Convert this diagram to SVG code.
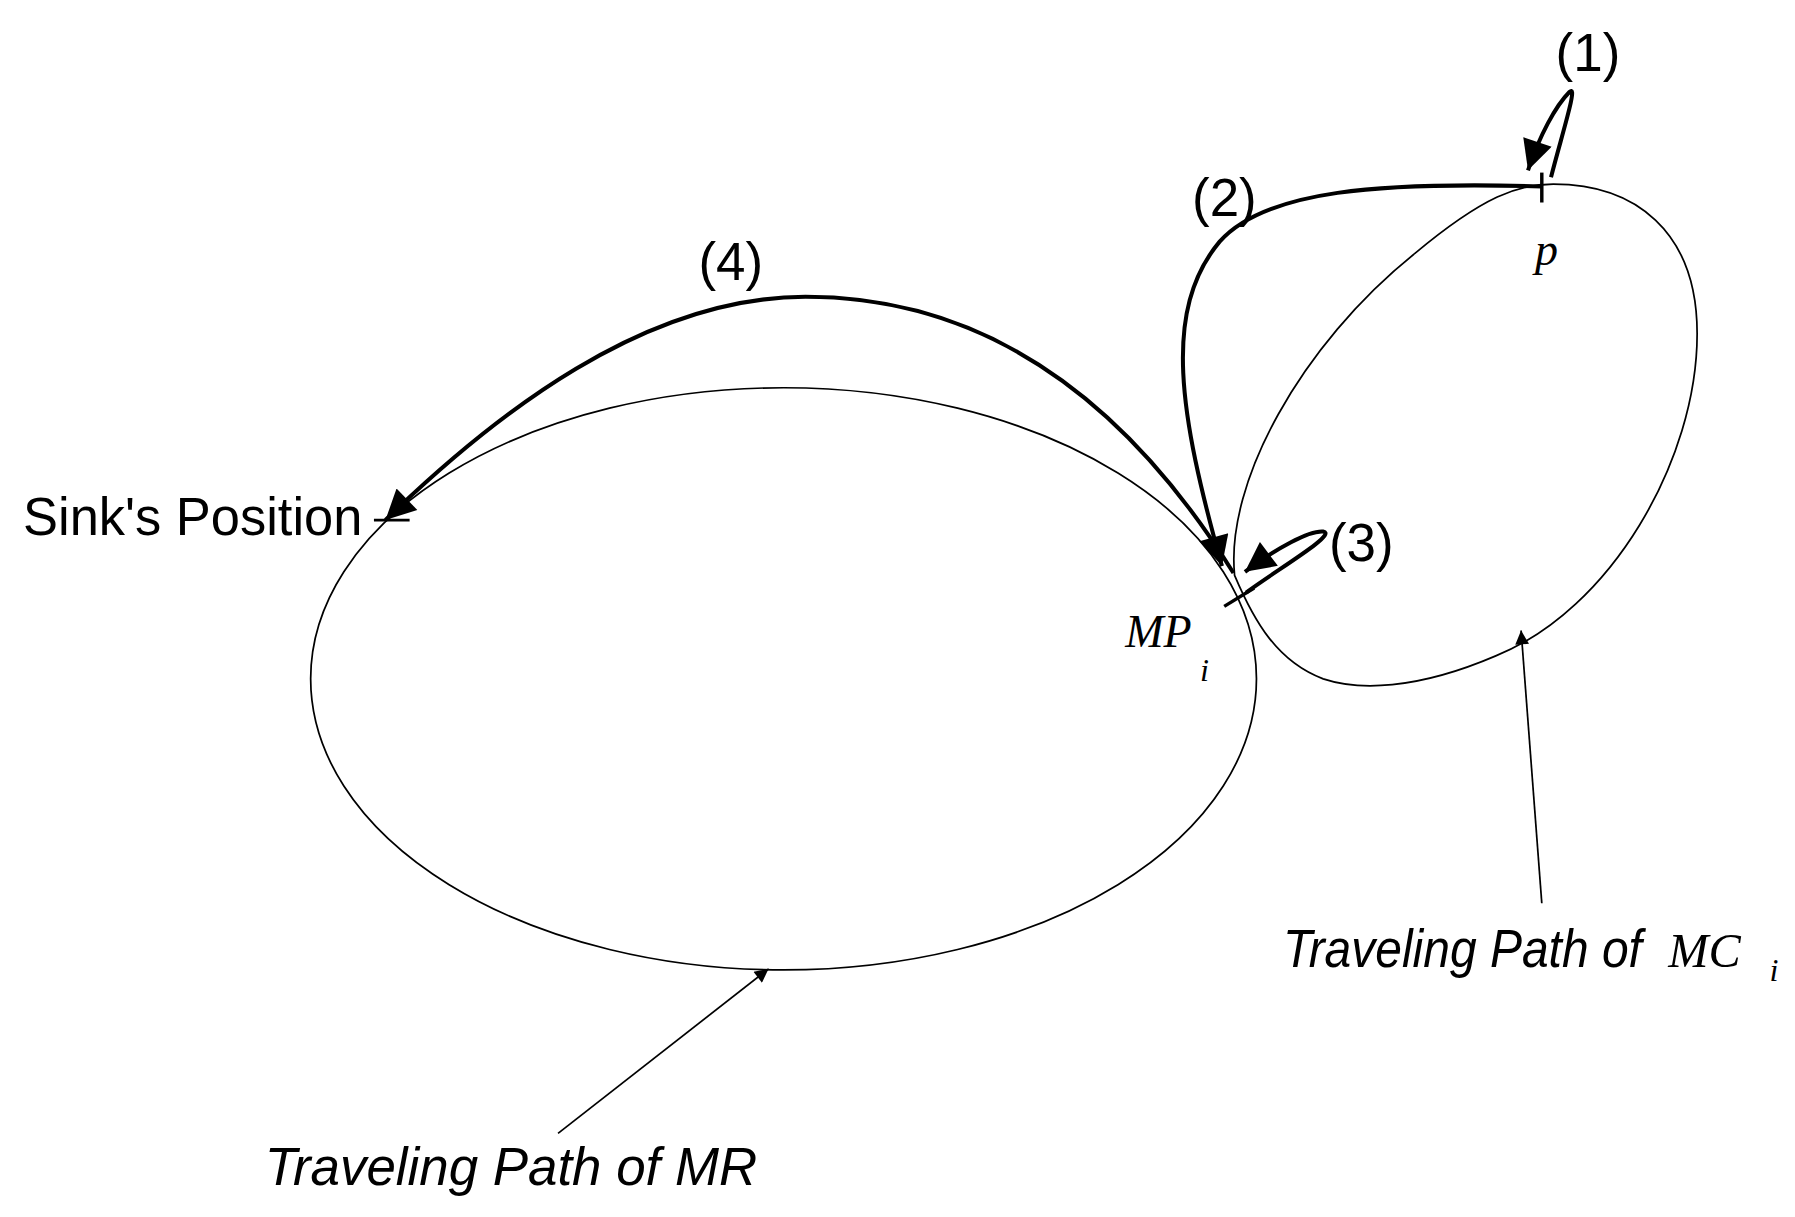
<svg xmlns="http://www.w3.org/2000/svg" width="1795" height="1217" viewBox="0 0 1795 1217">
<style>
.thin{fill:none;stroke:#000;stroke-width:1.5}
.thick{fill:none;stroke:#000;stroke-width:3.5}
.lbl{font-family:"Liberation Sans",Arial,sans-serif;font-size:46px;fill:#000}
.it{font-family:"Liberation Sans",Arial,sans-serif;font-style:italic;font-size:46px;fill:#000}
.math{font-family:"Liberation Serif","Times New Roman",serif;font-style:italic;fill:#000}
</style>
<defs>
<marker id="big" markerUnits="userSpaceOnUse" viewBox="0 0 10 10" refX="10" refY="5" markerWidth="38" markerHeight="26" orient="auto"><path d="M0,0 L10,5 L0,10 Z" fill="#000"/></marker>
<marker id="small" markerUnits="userSpaceOnUse" viewBox="0 0 10 10" refX="10" refY="5" markerWidth="22" markerHeight="12" orient="auto"><path d="M0,0 L10,5 L0,10 Z" fill="#000"/></marker>
</defs>
<rect width="1795" height="1217" fill="#fff"/>
<g transform="scale(1.1506)">
<g id="mr-path"><ellipse class="thin" cx="681" cy="590" rx="411" ry="253"/></g>
<g id="mc-path"><path class="thin" d="M1073,500 C1065,420 1130,300 1230,220 C1290,170 1320,160 1350,160 C1420,160 1475,200 1475,290 C1475,400 1400,530 1300,570 C1230,600 1180,600 1150,590 C1110,575 1090,540 1073,500 Z"/></g>
<g id="sink"><line class="thick" x1="325" y1="452" x2="356" y2="452" style="stroke-width:2.5"/><text class="lbl" x="20" y="465" textLength="295" lengthAdjust="spacingAndGlyphs">Sink's Position</text></g>
<g id="p"><line class="thick" x1="1340" y1="150" x2="1340" y2="176" style="stroke-width:3"/><text class="math" x="1334" y="230" font-size="40">p</text></g>
<g id="mpi"><line class="thick" x1="1064" y1="527" x2="1090" y2="511" style="stroke-width:3"/><text class="math" x="978" y="562" font-size="40">MP</text><text class="math" x="1043" y="592" font-size="28">i</text></g>
<g id="connectors">
<path class="thick" d="M1348,154 C1358,115 1372,72 1364,80 C1352,92 1338,118 1328,148" marker-end="url(#big)"/>
<path class="thick" d="M1340,162 C1200,158 1100,165 1060,210 C1010,270 1025,360 1062,492" marker-end="url(#big)"/>
<path class="thick" d="M1083,515 C1110,495 1163,464 1150,462 C1138,461 1110,476 1082,497" marker-end="url(#big)"/>
<path class="thick" d="M1072,498 C980,350 860,258 700,258 C560,258 430,360 335,452" marker-end="url(#big)"/>
<line class="thin" x1="485" y1="985" x2="668" y2="842" marker-end="url(#small)"/>
<line class="thin" x1="1340" y1="785" x2="1322" y2="548" marker-end="url(#small)"/>
</g>
<g id="labels">
<text class="lbl" x="1352" y="62">(1)</text>
<text class="lbl" x="1036" y="188">(2)</text>
<text class="lbl" x="1155" y="488">(3)</text>
<text class="lbl" x="607" y="243">(4)</text>
</g>
<g id="mr-label"><text class="it" x="230" y="1030" textLength="428" lengthAdjust="spacingAndGlyphs">Traveling Path of MR</text></g>
<g id="mc-label"><text class="it" x="1115" y="840" textLength="312" lengthAdjust="spacingAndGlyphs">Traveling Path of</text><text class="math" x="1450" y="840" font-size="42">MC</text><text class="math" x="1538" y="853" font-size="28">i</text></g>
</g>
</svg>
